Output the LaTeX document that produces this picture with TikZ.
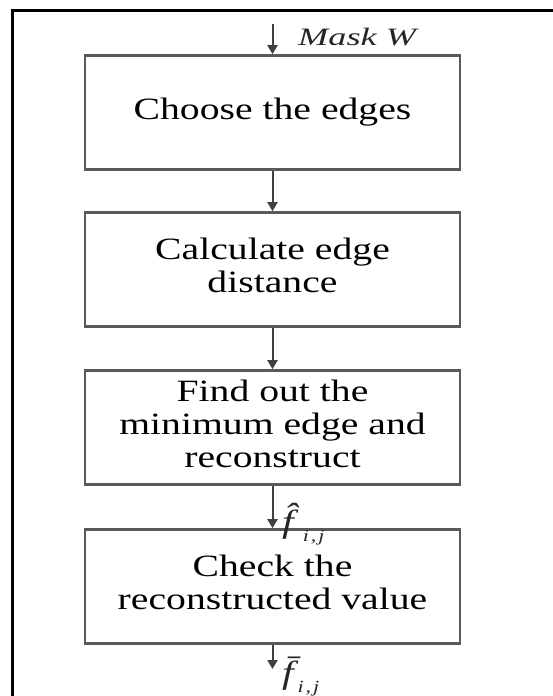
\documentclass[tikz,border=0pt]{standalone}
\usepackage{fontspec}
\setmainfont{Liberation Serif}
\usepackage{graphicx}
\usetikzlibrary{arrows.meta}
\newcommand{\wtxt}[1]{\scalebox{1.28}[1]{\begin{tabular}{@{}c@{}}#1\end{tabular}}}
\newcommand{\sbij}{\raisebox{-9pt}{\fontsize{17}{17}\selectfont\itshape i\kern1.5pt,\kern1.5pt j}}
\tikzset{
  stepbox/.style={draw=black!65, line width=2.6pt, fill=white, minimum width=375pt, minimum height=114pt,
    inner sep=0pt, font=\fontsize{31}{33}\selectfont, text=black},
  arr/.style={draw=black!75, line width=2pt, -{Triangle[length=9pt,width=10pt]}},
  lbl/.style={inner sep=0pt, font=\fontsize{32}{34}\selectfont\itshape, text=black!85}
}
\begin{document}
\begin{tikzpicture}[x=1pt,y=-1pt]
\useasboundingbox (0,0) rectangle (553,696);
\fill[white] (0,0) rectangle (553,696);
\draw[line width=3pt] (12,710) -- (12,10) -- (570,10);
\node[stepbox] (b1) at (272.5,112.5) {\wtxt{Choose the edges}};
\node[stepbox] (b2) at (272.5,269.5) {\wtxt{Calculate edge\\distance}};
\node[stepbox] (b3) at (272.5,427.5) {\wtxt{Find out the\\minimum edge and\\reconstruct}};
\node[stepbox] (b4) at (272.5,586.5) {\wtxt{Check the\\reconstructed value}};
\coordinate (top) at (272.5,24);
\coordinate (bot) at (272.5,669);
\draw[arr] (top) -- (b1.north);
\draw[arr] (b1.south) -- (b2.north);
\draw[arr] (b2.south) -- (b3.north);
\draw[arr] (b3.south) -- (b4.north);
\draw[arr] (b4.south) -- (bot);
\node[lbl, anchor=west, font=\fontsize{25}{27}\selectfont\itshape] (mw) at (298,37) {\scalebox{1.45}[1]{Mask W}};
\node[lbl, anchor=base west] (fh) at (282,532) {\scalebox{1.3}[1]{\^{f}\kern7pt\sbij}};
\node[lbl, anchor=base west] (fb) at (282,683) {\scalebox{1.3}[1]{\={f}\kern3pt\sbij}};
\end{tikzpicture}
\end{document}
